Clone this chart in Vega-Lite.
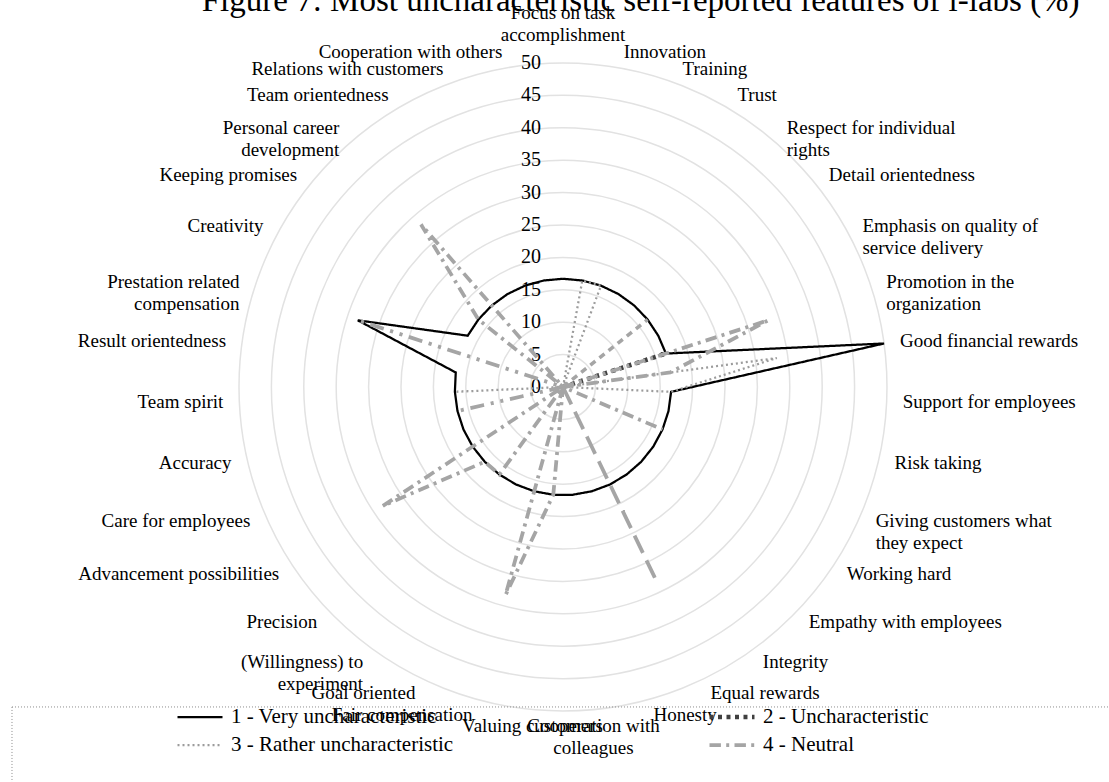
{
  "$schema": "https://vega.github.io/schema/vega-lite/v6.json",
  "width": 1109,
  "height": 782,
  "autosize": "none",
  "padding": 0,
  "background": "white",
  "config": {"view": {"stroke": null}, "font": "Liberation Serif"},
  "datasets": {
    "heading": [{"text": "Figure 7: Most uncharacteristic self-reported features of i-labs (%)"}],
    "series": [
      {"s": 1, "name": "1 - Very uncharacteristic"},
      {"s": 2, "name": "2 - Uncharacteristic"},
      {"s": 3, "name": "3 - Rather uncharacteristic"},
      {"s": 4, "name": "4 - Neutral"},
      {"s": 5, "name": "5 - Rather characteristic"},
      {"s": 6, "name": "6 - Characteristic"},
      {"s": 7, "name": "7 - Very characteristic"}
    ],
    "features": [
      {"k": 0, "f": "Focus on task\naccomplishment"},
      {"k": 1, "f": "Innovation"},
      {"k": 2, "f": "Training"},
      {"k": 3, "f": "Trust"},
      {"k": 4, "f": "Respect for individual\nrights"},
      {"k": 5, "f": "Detail orientedness"},
      {"k": 6, "f": "Emphasis on quality of\nservice delivery"},
      {"k": 7, "f": "Promotion in the\norganization"},
      {"k": 8, "f": "Good financial rewards"},
      {"k": 9, "f": "Support for employees"},
      {"k": 10, "f": "Risk taking"},
      {"k": 11, "f": "Giving customers what\nthey expect"},
      {"k": 12, "f": "Working hard"},
      {"k": 13, "f": "Empathy with employees"},
      {"k": 14, "f": "Integrity"},
      {"k": 15, "f": "Equal rewards"},
      {"k": 16, "f": "Honesty"},
      {"k": 17, "f": "Cooperation with\ncolleagues"},
      {"k": 18, "f": "Valuing customers"},
      {"k": 19, "f": "Fair compensation"},
      {"k": 20, "f": "Goal oriented"},
      {"k": 21, "f": "(Willingness) to\nexperiment"},
      {"k": 22, "f": "Precision"},
      {"k": 23, "f": "Advancement possibilities"},
      {"k": 24, "f": "Care for employees"},
      {"k": 25, "f": "Accuracy"},
      {"k": 26, "f": "Team spirit"},
      {"k": 27, "f": "Result orientedness"},
      {"k": 28, "f": "Prestation related\ncompensation"},
      {"k": 29, "f": "Creativity"},
      {"k": 30, "f": "Keeping promises"},
      {"k": 31, "f": "Personal career\ndevelopment"},
      {"k": 32, "f": "Team orientedness"},
      {"k": 33, "f": "Relations with customers"},
      {"k": 34, "f": "Cooperation with others"}
    ],
    "rings": [{"r": 5}, {"r": 10}, {"r": 15}, {"r": 20}, {"r": 25}, {"r": 30}, {"r": 35}, {"r": 40}, {"r": 45}, {"r": 50}],
    "ticks": [{"t": 0}, {"t": 5}, {"t": 10}, {"t": 15}, {"t": 20}, {"t": 25}, {"t": 30}, {"t": 35}, {"t": 40}, {"t": 45}, {"t": 50}],
    "values": [
      {"s":1,"k":0,"v":16.7},{"s":1,"k":1,"v":16.7},{"s":1,"k":2,"v":16.7},{"s":1,"k":3,"v":16.7},{"s":1,"k":4,"v":16.7},{"s":1,"k":5,"v":16.7},{"s":1,"k":6,"v":16.7},{"s":1,"k":7,"v":16.7},{"s":1,"k":8,"v":50},{"s":1,"k":9,"v":16.7},{"s":1,"k":10,"v":16.7},{"s":1,"k":11,"v":16.7},{"s":1,"k":12,"v":16.7},{"s":1,"k":13,"v":16.7},{"s":1,"k":14,"v":16.7},{"s":1,"k":15,"v":16.7},{"s":1,"k":16,"v":16.7},{"s":1,"k":17,"v":16.7},{"s":1,"k":18,"v":16.7},{"s":1,"k":19,"v":16.7},{"s":1,"k":20,"v":16.7},{"s":1,"k":21,"v":16.7},{"s":1,"k":22,"v":16.7},{"s":1,"k":23,"v":16.7},{"s":1,"k":24,"v":16.7},{"s":1,"k":25,"v":16.7},{"s":1,"k":26,"v":16.7},{"s":1,"k":27,"v":16.7},{"s":1,"k":28,"v":33.3},{"s":1,"k":29,"v":16.7},{"s":1,"k":30,"v":16.7},{"s":1,"k":31,"v":16.7},{"s":1,"k":32,"v":16.7},{"s":1,"k":33,"v":16.7},{"s":1,"k":34,"v":16.7},{"s":1,"k":35,"v":16.7},
      {"s":2,"k":0,"v":0},{"s":2,"k":1,"v":0},{"s":2,"k":2,"v":0},{"s":2,"k":3,"v":0},{"s":2,"k":4,"v":0},{"s":2,"k":5,"v":0},{"s":2,"k":6,"v":0},{"s":2,"k":7,"v":16.7},{"s":2,"k":8,"v":0},{"s":2,"k":9,"v":0},{"s":2,"k":10,"v":0},{"s":2,"k":11,"v":0},{"s":2,"k":12,"v":0},{"s":2,"k":13,"v":0},{"s":2,"k":14,"v":0},{"s":2,"k":15,"v":0},{"s":2,"k":16,"v":0},{"s":2,"k":17,"v":0},{"s":2,"k":18,"v":0},{"s":2,"k":19,"v":0},{"s":2,"k":20,"v":0},{"s":2,"k":21,"v":0},{"s":2,"k":22,"v":0},{"s":2,"k":23,"v":0},{"s":2,"k":24,"v":0},{"s":2,"k":25,"v":0},{"s":2,"k":26,"v":0},{"s":2,"k":27,"v":0},{"s":2,"k":28,"v":0},{"s":2,"k":29,"v":0},{"s":2,"k":30,"v":0},{"s":2,"k":31,"v":0},{"s":2,"k":32,"v":0},{"s":2,"k":33,"v":0},{"s":2,"k":34,"v":0},{"s":2,"k":35,"v":0},
      {"s":3,"k":0,"v":0},{"s":3,"k":1,"v":16.7},{"s":3,"k":2,"v":16.7},{"s":3,"k":3,"v":0},{"s":3,"k":4,"v":0},{"s":3,"k":5,"v":0},{"s":3,"k":6,"v":0},{"s":3,"k":7,"v":0},{"s":3,"k":8,"v":33.3},{"s":3,"k":9,"v":16.7},{"s":3,"k":10,"v":0},{"s":3,"k":11,"v":0},{"s":3,"k":12,"v":0},{"s":3,"k":13,"v":0},{"s":3,"k":14,"v":0},{"s":3,"k":15,"v":0},{"s":3,"k":16,"v":0},{"s":3,"k":17,"v":0},{"s":3,"k":18,"v":0},{"s":3,"k":19,"v":0},{"s":3,"k":20,"v":0},{"s":3,"k":21,"v":0},{"s":3,"k":22,"v":0},{"s":3,"k":23,"v":0},{"s":3,"k":24,"v":0},{"s":3,"k":25,"v":0},{"s":3,"k":26,"v":16.7},{"s":3,"k":27,"v":0},{"s":3,"k":28,"v":0},{"s":3,"k":29,"v":0},{"s":3,"k":30,"v":0},{"s":3,"k":31,"v":0},{"s":3,"k":32,"v":0},{"s":3,"k":33,"v":0},{"s":3,"k":34,"v":0},{"s":3,"k":35,"v":0},
      {"s":4,"k":0,"v":0},{"s":4,"k":1,"v":0},{"s":4,"k":2,"v":0},{"s":4,"k":3,"v":0},{"s":4,"k":4,"v":0},{"s":4,"k":5,"v":0},{"s":4,"k":6,"v":0},{"s":4,"k":7,"v":33.3},{"s":4,"k":8,"v":16.7},{"s":4,"k":9,"v":0},{"s":4,"k":10,"v":0},{"s":4,"k":11,"v":16.7},{"s":4,"k":12,"v":0},{"s":4,"k":13,"v":0},{"s":4,"k":14,"v":0},{"s":4,"k":15,"v":0},{"s":4,"k":16,"v":0},{"s":4,"k":17,"v":0},{"s":4,"k":18,"v":16.7},{"s":4,"k":19,"v":33.3},{"s":4,"k":20,"v":0},{"s":4,"k":21,"v":16.7},{"s":4,"k":22,"v":16.7},{"s":4,"k":23,"v":33.3},{"s":4,"k":24,"v":0},{"s":4,"k":25,"v":0},{"s":4,"k":26,"v":0},{"s":4,"k":27,"v":0},{"s":4,"k":28,"v":0},{"s":4,"k":29,"v":0},{"s":4,"k":30,"v":16.7},{"s":4,"k":31,"v":33.3},{"s":4,"k":32,"v":0},{"s":4,"k":33,"v":0},{"s":4,"k":34,"v":0},{"s":4,"k":35,"v":0},
      {"s":5,"k":0,"v":0},{"s":5,"k":1,"v":0},{"s":5,"k":2,"v":0},{"s":5,"k":3,"v":0},{"s":5,"k":4,"v":0},{"s":5,"k":5,"v":16.7},{"s":5,"k":6,"v":0},{"s":5,"k":7,"v":0},{"s":5,"k":8,"v":0},{"s":5,"k":9,"v":0},{"s":5,"k":10,"v":0},{"s":5,"k":11,"v":0},{"s":5,"k":12,"v":0},{"s":5,"k":13,"v":0},{"s":5,"k":14,"v":0},{"s":5,"k":15,"v":0},{"s":5,"k":16,"v":0},{"s":5,"k":17,"v":0},{"s":5,"k":18,"v":0},{"s":5,"k":19,"v":0},{"s":5,"k":20,"v":0},{"s":5,"k":21,"v":0},{"s":5,"k":22,"v":0},{"s":5,"k":23,"v":0},{"s":5,"k":24,"v":0},{"s":5,"k":25,"v":0},{"s":5,"k":26,"v":0},{"s":5,"k":27,"v":0},{"s":5,"k":28,"v":0},{"s":5,"k":29,"v":0},{"s":5,"k":30,"v":0},{"s":5,"k":31,"v":0},{"s":5,"k":32,"v":0},{"s":5,"k":33,"v":0},{"s":5,"k":34,"v":0},{"s":5,"k":35,"v":0},
      {"s":6,"k":0,"v":0},{"s":6,"k":1,"v":0},{"s":6,"k":2,"v":0},{"s":6,"k":3,"v":0},{"s":6,"k":4,"v":0},{"s":6,"k":5,"v":0},{"s":6,"k":6,"v":0},{"s":6,"k":7,"v":0},{"s":6,"k":8,"v":0},{"s":6,"k":9,"v":0},{"s":6,"k":10,"v":0},{"s":6,"k":11,"v":0},{"s":6,"k":12,"v":0},{"s":6,"k":13,"v":0},{"s":6,"k":14,"v":0},{"s":6,"k":15,"v":0},{"s":6,"k":16,"v":0},{"s":6,"k":17,"v":0},{"s":6,"k":18,"v":0},{"s":6,"k":19,"v":0},{"s":6,"k":20,"v":0},{"s":6,"k":21,"v":0},{"s":6,"k":22,"v":0},{"s":6,"k":23,"v":0},{"s":6,"k":24,"v":0},{"s":6,"k":25,"v":16.7},{"s":6,"k":26,"v":0},{"s":6,"k":27,"v":0},{"s":6,"k":28,"v":33.3},{"s":6,"k":29,"v":0},{"s":6,"k":30,"v":0},{"s":6,"k":31,"v":0},{"s":6,"k":32,"v":0},{"s":6,"k":33,"v":0},{"s":6,"k":34,"v":0},{"s":6,"k":35,"v":0},
      {"s":7,"k":0,"v":0},{"s":7,"k":1,"v":0},{"s":7,"k":2,"v":0},{"s":7,"k":3,"v":0},{"s":7,"k":4,"v":0},{"s":7,"k":5,"v":0},{"s":7,"k":6,"v":0},{"s":7,"k":7,"v":0},{"s":7,"k":8,"v":0},{"s":7,"k":9,"v":0},{"s":7,"k":10,"v":0},{"s":7,"k":11,"v":0},{"s":7,"k":12,"v":0},{"s":7,"k":13,"v":0},{"s":7,"k":14,"v":0},{"s":7,"k":15,"v":33.3},{"s":7,"k":16,"v":0},{"s":7,"k":17,"v":0},{"s":7,"k":18,"v":0},{"s":7,"k":19,"v":0},{"s":7,"k":20,"v":0},{"s":7,"k":21,"v":0},{"s":7,"k":22,"v":0},{"s":7,"k":23,"v":0},{"s":7,"k":24,"v":0},{"s":7,"k":25,"v":0},{"s":7,"k":26,"v":0},{"s":7,"k":27,"v":0},{"s":7,"k":28,"v":0},{"s":7,"k":29,"v":0},{"s":7,"k":30,"v":0},{"s":7,"k":31,"v":0},{"s":7,"k":32,"v":0},{"s":7,"k":33,"v":0},{"s":7,"k":34,"v":0},{"s":7,"k":35,"v":0}
    ]
  },
  "layer": [
    {
      "data": {"name": "rings"},
      "mark": {"type": "point", "shape": "circle", "filled": false, "stroke": "#e2e2e2", "strokeWidth": 1.5, "opacity": 1},
      "encoding": {
        "x": {"datum": 0, "type": "quantitative", "scale": {"domain": [-86.88, 84.26], "nice": false, "zero": false}, "axis": null},
        "y": {"datum": 0, "type": "quantitative", "scale": {"domain": [-60.96, 59.72], "nice": false, "zero": false}, "axis": null},
        "size": {"field": "r", "type": "quantitative", "scale": {"type": "pow", "exponent": 2, "domain": [0, 50], "range": [0, 419904]}, "legend": null}
      }
    },
    {
      "data": {"name": "heading"},
      "mark": {"type": "text", "align": "center", "baseline": "alphabetic", "font": "Liberation Serif", "fontSize": 33, "color": "black"},
      "encoding": {
        "x": {"datum": 11.99, "type": "quantitative"},
        "y": {"datum": 58.02, "type": "quantitative"},
        "text": {"field": "text", "type": "nominal"}
      }
    },
    {
      "data": {"values": [{}]},
      "mark": {"type": "rule", "stroke": "#8c8c8c", "strokeWidth": 1, "strokeDash": [1, 2]},
      "encoding": {
        "x": {"datum": -85.03, "type": "quantitative"},
        "x2": {"datum": 84.26},
        "y": {"datum": -49.38, "type": "quantitative"}
      }
    },
    {
      "data": {"values": [{}]},
      "mark": {"type": "rule", "stroke": "#8c8c8c", "strokeWidth": 1, "strokeDash": [1, 2]},
      "encoding": {
        "x": {"datum": -85.03, "type": "quantitative"},
        "y": {"datum": -49.38, "type": "quantitative"},
        "y2": {"datum": -60.96}
      }
    },
    {
      "data": {"name": "ticks"},
      "mark": {"type": "text", "align": "right", "baseline": "middle", "font": "Liberation Serif", "fontSize": 20, "color": "black"},
      "encoding": {
        "x": {"datum": -3.4, "type": "quantitative"},
        "y": {"field": "t", "type": "quantitative"},
        "text": {"field": "t", "type": "quantitative"}
      }
    },
    {
      "data": {"name": "values"},
      "transform": [
        {"lookup": "s", "from": {"data": {"name": "series"}, "key": "s", "fields": ["name"]}},
        {"calculate": "datum.k * 2 * PI / 35", "as": "th"},
        {"calculate": "datum.v * sin(datum.th)", "as": "px"},
        {"calculate": "datum.v * cos(datum.th)", "as": "py"}
      ],
      "mark": {"type": "line", "interpolate": "linear"},
      "encoding": {
        "x": {"field": "px", "type": "quantitative"},
        "y": {"field": "py", "type": "quantitative"},
        "order": {"field": "k", "type": "quantitative"},
        "color": {
          "field": "name", "type": "nominal",
          "scale": {"domain": ["1 - Very uncharacteristic", "2 - Uncharacteristic", "3 - Rather uncharacteristic", "4 - Neutral", "5 - Rather characteristic", "6 - Characteristic", "7 - Very characteristic"],
                    "range": ["#000000", "#404040", "#9c9c9c", "#a5a5a5", "#a5a5a5", "#a5a5a5", "#a5a5a5"]},
          "legend": {"values": ["1 - Very uncharacteristic", "3 - Rather uncharacteristic", "2 - Uncharacteristic", "4 - Neutral"], "title": null, "orient": "none", "legendX": 175, "legendY": 705, "columns": 2, "columnPadding": 253, "rowPadding": 4, "symbolType": "stroke", "symbolSize": 2025, "labelFont": "Liberation Serif", "labelFontSize": 21, "labelColor": "black", "labelOffset": 6, "clipHeight": 24, "padding": 0, "labelLimit": 400}
        },
        "strokeDash": {
          "field": "name", "type": "nominal",
          "scale": {"domain": ["1 - Very uncharacteristic", "2 - Uncharacteristic", "3 - Rather uncharacteristic", "4 - Neutral", "5 - Rather characteristic", "6 - Characteristic", "7 - Very characteristic"],
                    "range": [[1, 0], [4, 4.497], [2, 3.0035], [11.42, 5.29, 3, 5.29], [6.42, 5.25], [13.93, 6.86, 3, 6.86, 3, 6.86], [19.24, 8.25]]},
          "legend": {"values": ["1 - Very uncharacteristic", "3 - Rather uncharacteristic", "2 - Uncharacteristic", "4 - Neutral"], "title": null, "orient": "none", "legendX": 175, "legendY": 705, "columns": 2, "columnPadding": 253, "rowPadding": 4, "symbolType": "stroke", "symbolSize": 2025, "labelFont": "Liberation Serif", "labelFontSize": 21, "labelColor": "black", "labelOffset": 6, "clipHeight": 24, "padding": 0, "labelLimit": 400}
        },
        "strokeWidth": {
          "field": "name", "type": "nominal",
          "scale": {"type": "ordinal", "domain": ["1 - Very uncharacteristic", "2 - Uncharacteristic", "3 - Rather uncharacteristic", "4 - Neutral", "5 - Rather characteristic", "6 - Characteristic", "7 - Very characteristic"],
                    "range": [2.25, 4.5, 2.25, 3.75, 3.5, 3.75, 3.75]},
          "legend": {"values": ["1 - Very uncharacteristic", "3 - Rather uncharacteristic", "2 - Uncharacteristic", "4 - Neutral"], "title": null, "orient": "none", "legendX": 175, "legendY": 705, "columns": 2, "columnPadding": 253, "rowPadding": 4, "symbolType": "stroke", "symbolSize": 2025, "labelFont": "Liberation Serif", "labelFontSize": 21, "labelColor": "black", "labelOffset": 6, "clipHeight": 24, "padding": 0, "labelLimit": 400}
        }
      }
    },
    {
      "data": {"name": "features"},
      "transform": [
        {"calculate": "datum.k * 2 * PI / 35", "as": "th"},
        {"calculate": "sin(datum.th)", "as": "sn"},
        {"calculate": "cos(datum.th)", "as": "cs"},
        {"calculate": "indexof(datum.f, '\\n') >= 0 ? 2 : 1", "as": "nl"},
        {"calculate": "52.47 * datum.sn", "as": "lx"},
        {"calculate": "(52.47 + (datum.nl - 1) * 5.25 * pow(max(0, datum.cs), 8)) * datum.cs", "as": "ly"},
        {"filter": "datum.sn > 0.1"}
      ],
      "mark": {"type": "text", "align": "left", "baseline": "middle", "font": "Liberation Serif", "fontSize": 19, "color": "black", "lineBreak": "\n", "lineHeight": 22},
      "encoding": {
        "x": {"field": "lx", "type": "quantitative"},
        "y": {"field": "ly", "type": "quantitative"},
        "text": {"field": "f", "type": "nominal"}
      }
    },
    {
      "data": {"name": "features"},
      "transform": [
        {"calculate": "datum.k * 2 * PI / 35", "as": "th"},
        {"calculate": "sin(datum.th)", "as": "sn"},
        {"calculate": "cos(datum.th)", "as": "cs"},
        {"calculate": "indexof(datum.f, '\\n') >= 0 ? 2 : 1", "as": "nl"},
        {"calculate": "52.47 * datum.sn", "as": "lx"},
        {"calculate": "(52.47 + (datum.nl - 1) * 5.25 * pow(max(0, datum.cs), 8)) * datum.cs", "as": "ly"},
        {"filter": "datum.sn < -0.1"}
      ],
      "mark": {"type": "text", "align": "right", "baseline": "middle", "font": "Liberation Serif", "fontSize": 19, "color": "black", "lineBreak": "\n", "lineHeight": 22},
      "encoding": {
        "x": {"field": "lx", "type": "quantitative"},
        "y": {"field": "ly", "type": "quantitative"},
        "text": {"field": "f", "type": "nominal"}
      }
    },
    {
      "data": {"name": "features"},
      "transform": [
        {"calculate": "datum.k * 2 * PI / 35", "as": "th"},
        {"calculate": "sin(datum.th)", "as": "sn"},
        {"calculate": "cos(datum.th)", "as": "cs"},
        {"calculate": "indexof(datum.f, '\\n') >= 0 ? 2 : 1", "as": "nl"},
        {"calculate": "52.47 * datum.sn", "as": "lx"},
        {"calculate": "(52.47 + (datum.nl - 1) * 5.25 * pow(max(0, datum.cs), 8)) * datum.cs", "as": "ly"},
        {"filter": "abs(datum.sn) <= 0.1"}
      ],
      "mark": {"type": "text", "align": "center", "baseline": "middle", "font": "Liberation Serif", "fontSize": 19, "color": "black", "lineBreak": "\n", "lineHeight": 22},
      "encoding": {
        "x": {"field": "lx", "type": "quantitative"},
        "y": {"field": "ly", "type": "quantitative"},
        "text": {"field": "f", "type": "nominal"}
      }
    }
  ]
}
